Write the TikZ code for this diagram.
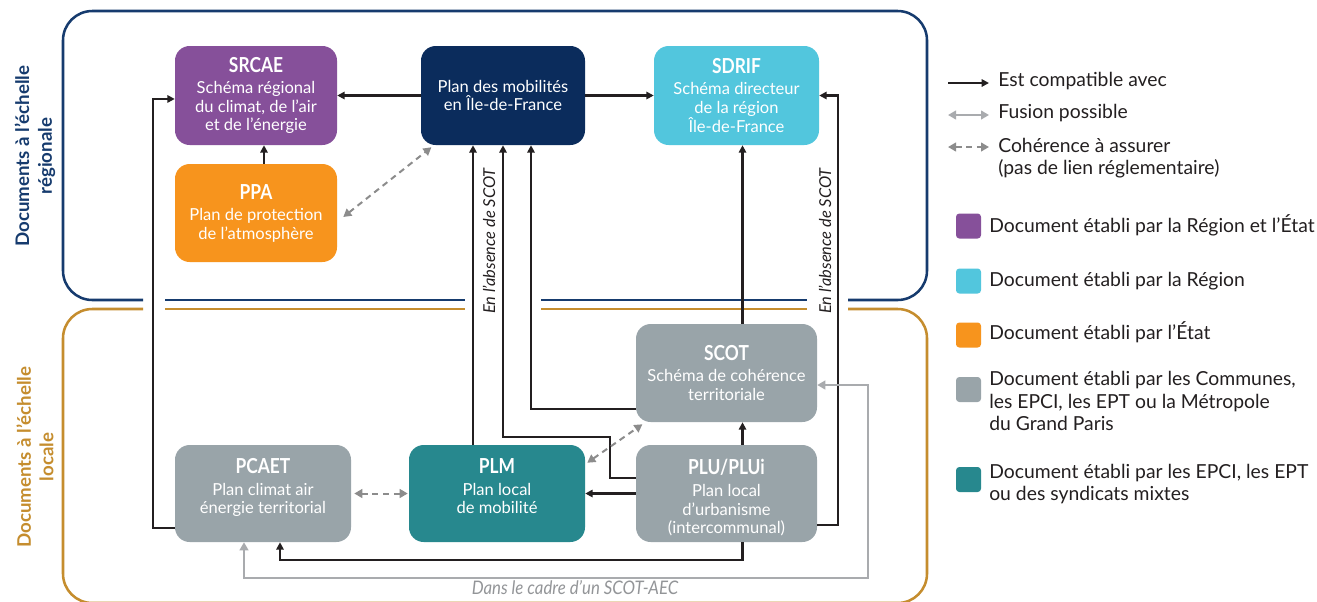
\documentclass[tikz,border=0pt]{standalone}
\usepackage{fontspec}
\setmainfont{Lato}
\newfontfamily\condfont{Lato}[FakeStretch=0.84]
\newfontfamily\condit{Lato}[FakeStretch=0.9]
\usetikzlibrary{arrows.meta,calc}
\definecolor{navyB}{HTML}{163B6E}
\definecolor{goldB}{HTML}{C58D2E}
\definecolor{cpurple}{HTML}{86509A}
\definecolor{corange}{HTML}{F7941D}
\definecolor{ccyan}{HTML}{52C6DD}
\definecolor{cnavy}{HTML}{0B2C5C}
\definecolor{cgrey}{HTML}{99A4A9}
\definecolor{cteal}{HTML}{27888E}
\definecolor{inkc}{HTML}{231F20}
\definecolor{dashc}{HTML}{8C8C8C}
\definecolor{fusc}{HTML}{A9ABAE}
\definecolor{notec}{HTML}{939598}
\newcommand\ttl[1]{{\condfont\bfseries\fontsize{15.5}{16}\selectfont #1}\\[2pt]}
\newcommand\ttlb[1]{{\condfont\bfseries\fontsize{15.5}{16}\selectfont\rule{0pt}{18pt}#1}\\[2.5pt]}
\tikzset{
  doc/.style={fill=#1, rounded corners=11pt, text=white, align=center, inner sep=0pt,
    font=\fontsize{12.4}{14}\selectfont},
  comp/.style={draw=inkc, line width=1.8pt, -{Triangle[length=5.5pt,width=5.5pt]}},
  coh/.style={draw=dashc, line width=1.5pt, dash pattern=on 4.5pt off 3.5pt,
    {Triangle[length=6pt,width=6.5pt]}-{Triangle[length=6pt,width=6.5pt]}},
  fus/.style={draw=fusc, line width=1.5pt,
    {Triangle[length=6pt,width=6.5pt]}-{Triangle[length=6pt,width=6.5pt]}},
  regb/.style={draw=navyB, line width=1.9pt, rounded corners=22pt},
  locb/.style={draw=goldB, line width=1.9pt, rounded corners=22pt},
  sq/.style={fill=#1, minimum width=18.75pt, minimum height=18.75pt, inner sep=0pt, rounded corners=2.5pt},
  lgd/.style={anchor=base west, inner sep=0pt, text=inkc, font=\fontsize{14.5}{17}\selectfont},
  sidelab/.style={align=center, inner sep=0pt, font=\bfseries\fontsize{14}{17}\selectfont},
  abslab/.style={inner sep=0pt, text=inkc, font=\itshape\fontsize{12.3}{14}\selectfont},
}
\begin{document}
\begin{tikzpicture}[x=0.75pt,y=-0.75pt]
\useasboundingbox (0,0) rectangle (1317,601);
\fill[white] (0,0) rectangle (1317,601);
% frames
\draw[regb] (143,300) -- (63,300) -- (63,11) -- (927,11) -- (927,300) -- (848,300);
\draw[regb] (165,300) -- (465,300);
\draw[regb] (541,300) -- (807,300);
\draw[locb] (143,309) -- (63,309) -- (63,603) -- (927,603) -- (927,309) -- (848,309);
\draw[locb] (165,309) -- (465,309);
\draw[locb] (541,309) -- (807,309);
% side labels
\node[sidelab, text=navyB, rotate=90] (labreg) at (35,156) {Documents à l’échelle\\régionale};
\node[sidelab, text=goldB, rotate=90] (labloc) at (35,457) {Documents à l’échelle\\locale};
% documents
\node[doc=cpurple, minimum width=121.5pt, minimum height=74.25pt] (SRCAE) at (256,95.5)
  {\ttl{SRCAE}Schéma régional\\du climat, de l’air\\et de l’énergie};
\node[doc=corange, minimum width=121.5pt, minimum height=73.5pt] (PPA) at (256,213)
  {\ttl{PPA}Plan de protection\\de l’atmosphère};
\node[doc=cnavy, minimum width=123pt, minimum height=74.25pt] (PDM) at (503,95.5)
  {Plan des mobilités\\en Île-de-France};
\node[doc=ccyan, minimum width=123.75pt, minimum height=74.25pt] (SDRIF) at (736.5,95.5)
  {\ttl{SDRIF}Schéma directeur\\de la région\\Île-de-France};
\node[doc=cgrey, minimum width=135.75pt, minimum height=73.5pt] (SCOT) at (726.5,373)
  {\ttl{SCOT}Schéma de cohérence\\territoriale};
\node[doc=cgrey, minimum width=132pt, minimum height=72.75pt] (PCAET) at (263,493.5)
  {\ttlb{PCAET}Plan climat air\\énergie territorial\\\strut};
\node[doc=cteal, minimum width=132pt, minimum height=72.75pt] (PLM) at (497,493.5)
  {\ttlb{PLM}Plan local\\de mobilité\\\strut};
\node[doc=cgrey, minimum width=135.75pt, minimum height=72.75pt] (PLU) at (726.5,493.5)
  {\ttlb{PLU/PLUi}Plan local\\d’urbanisme\\(intercommunal)};
% connectors
\draw[comp] (PDM.west) -- (SRCAE.east);
\draw[comp] (PDM.east) -- (SDRIF.west);
\draw[comp] ([xshift=6pt]PPA.north) -- ([xshift=6pt]SRCAE.south);
\draw[coh] ([xshift=4.5pt,yshift=-3pt]PPA.east) -- ([xshift=8pt,yshift=-1.5pt]PDM.south west);
\draw[comp] ([yshift=-25.9pt]PCAET.west) -- ++(-16.5pt,0) |- ([yshift=-2.6pt]SRCAE.west);
\coordinate (lplm) at ([xshift=-18pt]PLM.north);
\draw[comp] (lplm) -- (lplm |- PDM.south);
\coordinate (bend1) at (610,437);
\draw[comp] ([yshift=11.6pt]PLU.west) -| (bend1) -| (PDM.south);
\draw[comp] ([yshift=-27pt]SCOT.west) -| ([xshift=21pt]PDM.south);
\coordinate (lscot) at ([xshift=12pt]SCOT.north);
\draw[comp] (lscot) -- (lscot |- SDRIF.south);
\coordinate (lplu) at ([xshift=12pt]PLU.north);
\draw[comp] (lplu) -- (lplu |- SCOT.south);
\draw[comp] ([yshift=-23.6pt]PLU.east) -- ++(15.75pt,0) |- (SDRIF.east);
\draw[comp] (PLU.west) -- (PLM.east);
\draw[comp] ([xshift=12pt]PLU.south) -- ++(0,-13.5pt) -| ([xshift=12.75pt]PCAET.south);
\draw[coh] ([xshift=1.5pt,yshift=-13.5pt]PLM.north east) -- ([xshift=5pt,yshift=-1.5pt]SCOT.south west);
\draw[coh] ([xshift=2.25pt]PCAET.east) -- ([xshift=-0.75pt]PLM.west);
\draw[fus] ([yshift=-9pt]SCOT.east) -- ++(38.25pt,0) -- ++(0,-144.75pt) -| ([xshift=-14.25pt]PCAET.south);
% labels on connectors
\node[abslab, rotate=90] (abs1) at (489,241) {En l’absence de SCOT};
\node[abslab, rotate=90] (abs2) at (825,241) {En l’absence de SCOT};
\node[inner sep=0pt, text=notec, font=\condit\itshape\fontsize{14}{16}\selectfont] (aec) at (575,588) {Dans le cadre d’un SCOT-AEC};
% legend
\coordinate (la1) at (948,83); \coordinate (la2) at (989,83);
\coordinate (lb1) at (948,115); \coordinate (lb2) at (989,115);
\coordinate (lc1) at (948,147); \coordinate (lc2) at (989,147);
\draw[comp] (la1) -- (la2);
\draw[fus] (lb1) -- (lb2);
\draw[coh] (lc1) -- (lc2);
\node[lgd] (t1) at (998,86) {Est compatible avec};
\node[lgd] (t2) at (998,118) {Fusion possible};
\node[lgd] (t3) at (998,152) {Cohérence à assurer};
\node[lgd] (t3b) at (998,174) {(pas de lien réglementaire)};
\node[sq=cpurple] (sq1) at (968.5,226) {};
\node[sq=ccyan] (sq2) at (968.5,281) {};
\node[sq=corange] (sq3) at (968.5,335) {};
\node[sq=cgrey] (sq4) at (968.5,389.5) {};
\node[sq=cteal] (sq5) at (968.5,479.5) {};
\node[lgd] (d1) at (989,232) {Document établi par la Région et l’État};
\node[lgd] (d2) at (989,286) {Document établi par la Région};
\node[lgd] (d3) at (989,339) {Document établi par l’État};
\node[lgd] (d4) at (989,385) {Document établi par les Communes,};
\node[lgd] (d4b) at (989,408) {les EPCI, les EPT ou la Métropole};
\node[lgd] (d4c) at (989,430) {du Grand Paris};
\node[lgd] (d5) at (989,478) {Document établi par les EPCI, les EPT};
\node[lgd] (d5b) at (989,500) {ou des syndicats mixtes};
\end{tikzpicture}
\end{document}
